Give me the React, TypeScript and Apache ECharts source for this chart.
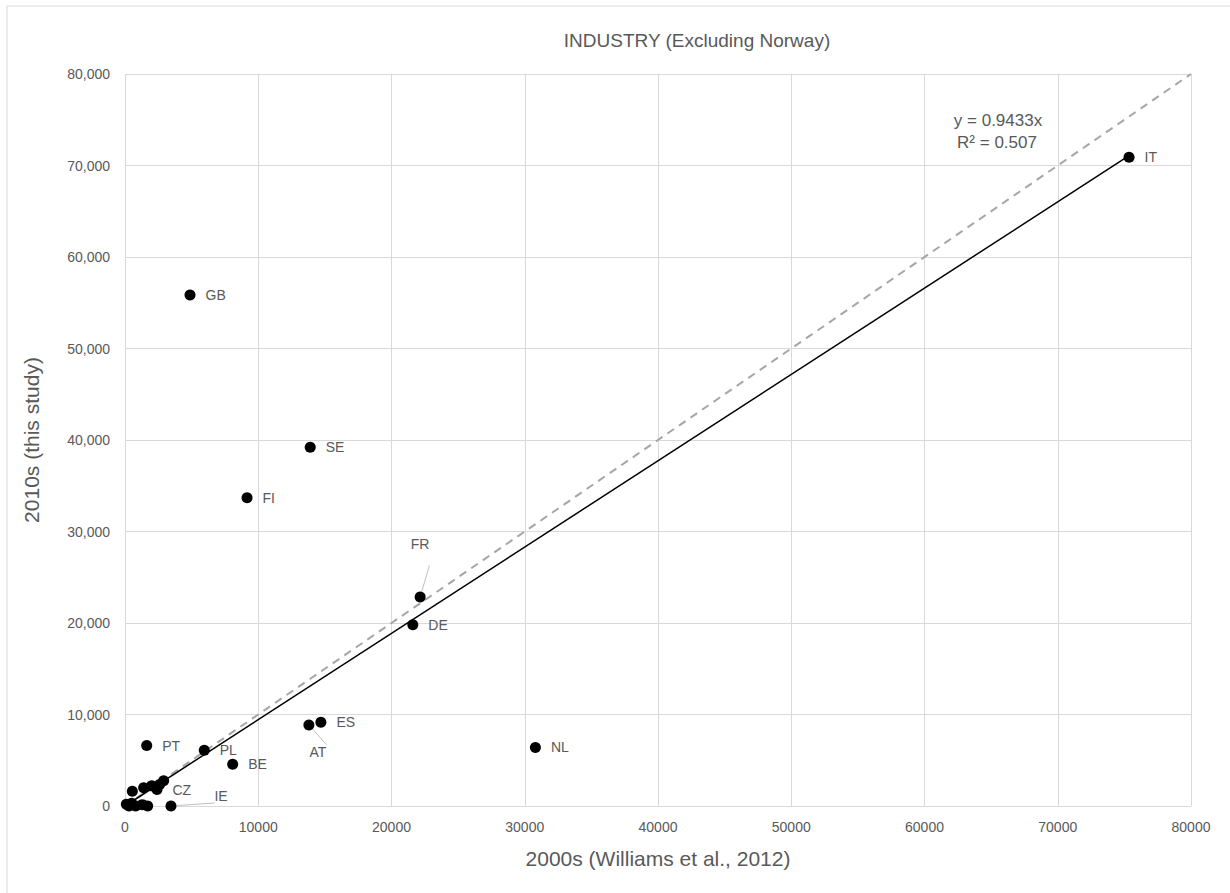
import React, { useEffect, useRef } from "react";
import * as echarts from "echarts";

const names = ["IT", "GB", "SE", "FI", "FR", "DE", "ES", "AT", "NL", "PT", "PL", "BE", "CZ", "IE", "", "", "", "", "", "", "", "", "", "", ""];
const xs2000 = [75350, 4880, 13900, 9160, 22150, 21600, 14700, 13800, 30800, 1630, 5950, 8080, 2400, 3450, 100, 300, 500, 800, 1300, 1700, 550, 1400, 2000, 2600, 2900];
const ys2010 = [70900, 55850, 39200, 33700, 22850, 19800, 9150, 8850, 6400, 6600, 6100, 4560, 1800, 0, 200, 0, 300, 0, 150, 0, 1600, 2000, 2200, 2350, 2750];
const slope = 0.9433;
const r2 = 0.507;
const axisMax = 80000;
const axisStep = 10000;

const FONT = "Liberation Sans, Arial, sans-serif";
const GREY = "#595959";

export default function App() {
  const ref = useRef<HTMLDivElement>(null);
  useEffect(() => {
    const chart = echarts.init(ref.current!, undefined, { renderer: "svg" });
    const maxX = Math.max(...xs2000);
    const pts = xs2000.map((x, i) => {
      const item: any = { value: [x, ys2010[i]], name: names[i] };
      if (names[i] === "FR") {
        item.label = { position: "top", distance: 40 };
        item.labelLine = { show: true };
      } else if (names[i] === "AT") {
        item.label = { position: "bottom", distance: 14, offset: [9, 0] };
        item.labelLine = { show: true };
      } else if (names[i] === "IE") {
        item.label = { position: "right", distance: 38, offset: [0, -10] };
        item.labelLine = { show: true };
      }
      return item;
    });
    const option: any = {
      animation: false,
      textStyle: { fontFamily: FONT },
      grid: { left: 125, right: 39, top: 74, bottom: 87 },
      xAxis: {
        type: "value",
        min: 0,
        max: axisMax,
        interval: axisStep,
        name: "2000s (Williams et al., 2012)",
        nameLocation: "middle",
        nameGap: 42,
        nameTextStyle: { color: GREY, fontSize: 21, fontFamily: FONT },
        axisLine: { show: false },
        axisTick: { show: false },
        axisLabel: {
          color: GREY,
          fontSize: 14,
          margin: 14,
          fontFamily: FONT,
          formatter: (v: number) => String(v),
        },
        splitLine: { show: true, lineStyle: { color: "#d9d9d9", width: 1 } },
      },
      yAxis: {
        type: "value",
        min: 0,
        max: axisMax,
        interval: axisStep,
        name: "2010s (this study)",
        nameLocation: "middle",
        nameGap: 83,
        nameTextStyle: { color: GREY, fontSize: 21, fontFamily: FONT },
        axisLine: { show: false },
        axisTick: { show: false },
        axisLabel: {
          color: GREY,
          fontSize: 14,
          margin: 15,
          fontFamily: FONT,
          formatter: (v: number) => v.toLocaleString("en-US"),
        },
        splitLine: { show: true, lineStyle: { color: "#d9d9d9", width: 1 } },
      },
      series: [
        {
          type: "line",
          data: [
            [0, 0],
            [axisMax, axisMax],
          ],
          symbol: "none",
          lineStyle: { color: "#a6a6a6", width: 2, type: [8, 6] },
          z: 1,
        },
        {
          type: "line",
          data: [
            [0, 0],
            [maxX, maxX * slope],
          ],
          symbol: "none",
          lineStyle: { color: "#000000", width: 1.5 },
          z: 2,
        },
        {
          type: "scatter",
          data: pts,
          symbolSize: 11,
          itemStyle: { color: "#000000", opacity: 1 },
          z: 3,
          label: {
            show: true,
            position: "right",
            distance: 10,
            color: GREY,
            fontSize: 14,
            fontFamily: FONT,
            formatter: (p: any) => p.name,
          },
          labelLine: { show: false, lineStyle: { color: "#bfbfbf", width: 1 } },
        },
      ],
      graphic: [
        {
          type: "rect",
          shape: { x: 7, y: 6, width: 1240, height: 900 },
          style: { fill: "none", stroke: "#d9d9d9", lineWidth: 1 },
          silent: true,
        },
        {
          type: "text",
          x: 697,
          y: 40,
          style: {
            text: "INDUSTRY (Excluding Norway)",
            fill: GREY,
            font: `19px ${FONT}`,
            textAlign: "center",
            textVerticalAlign: "middle",
          },
        },
        {
          type: "text",
          x: 998,
          y: 120,
          style: {
            text: `y = ${slope}x`,
            fill: GREY,
            font: `17px ${FONT}`,
            textAlign: "center",
            textVerticalAlign: "middle",
          },
        },
        {
          type: "text",
          x: 997,
          y: 142,
          style: {
            text: `R² = ${r2}`,
            fill: GREY,
            font: `17px ${FONT}`,
            textAlign: "center",
            textVerticalAlign: "middle",
          },
        },
      ],
    };
    chart.setOption(option);
    return () => chart.dispose();
  }, []);
  return (
    <div
      ref={ref}
      style={{ position: "absolute", left: 0, top: 0, width: 1230, height: 893, background: "#fff" }}
    />
  );
}
